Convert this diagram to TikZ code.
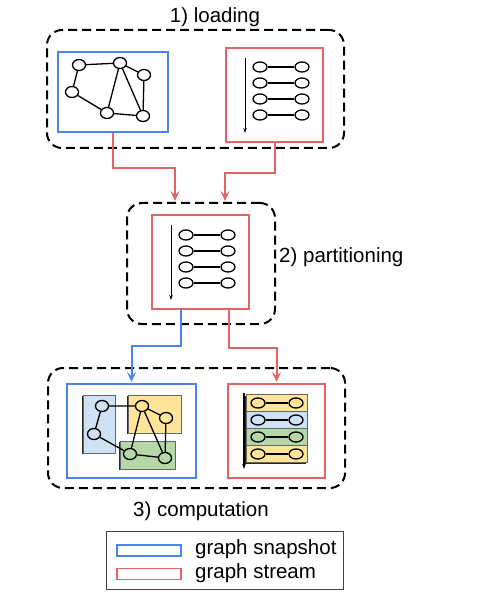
\documentclass[tikz,border=0pt]{standalone}
\usepackage{fontspec}
\setmainfont{Liberation Sans}
\usepackage{xcolor}
\usepackage{tikz}
\usetikzlibrary{arrows.meta}
\usetikzlibrary{calc}
\usetikzlibrary{shapes.geometric}
\usetikzlibrary{shadows}
\definecolor{snapblue}{HTML}{4A86E8}
\definecolor{streamred}{HTML}{E06666}
\definecolor{pblue}{HTML}{CFE2F3}
\definecolor{pyellow}{HTML}{FFE599}
\definecolor{pgreen}{HTML}{B6D7A8}
\tikzstyle{stage}=[draw,line width=2pt,dash pattern=on 9pt off 5pt,rounded corners=15pt,inner sep=0pt]
\tikzstyle{box}  =[line width=2pt,inner sep=0pt]
\tikzstyle{snap} =[box,draw=snapblue]
\tikzstyle{strm} =[box,draw=streamred]
\tikzstyle{vx}   =[draw,ellipse,line width=1.3pt,minimum width=13pt,minimum height=11pt,inner sep=0pt]
\tikzstyle{tv}   =[vx,minimum width=14pt,minimum height=10pt]
\tikzstyle{ed}   =[line width=1.3pt]
\tikzstyle{part} =[draw=black!60,line width=.6pt,inner sep=0pt,drop shadow={shadow xshift=-1.3pt,shadow yshift=-1.3pt,opacity=1,fill=black!85}]
\tikzstyle{conn} =[line width=2pt,-{Stealth[length=10pt,width=9pt,inset=4pt]}]
\tikzstyle{order}=[line width=1pt,-{Stealth[length=5pt,width=3.5pt]}]
\tikzstyle{lbl}  =[font=\fontsize{20.5}{24}\selectfont,inner sep=0pt]
% one edge of a stream: name, left x, right x, y
\newcommand\tuple[4]{%
	\node[tv] (#1a) at (#2,#4) {};
	\node[tv] (#1b) at (#3,#4) {};
	\draw[ed] (#1a) -- (#1b);}
\begin{document}
\begin{tikzpicture}[x=1pt,y=-1pt]
	\useasboundingbox (0,0) rectangle (496,609);
	% 1) loading
	\node[stage,minimum width=297pt,minimum height=118pt] (stage1) at (195.5,89) {};
	\node[lbl] (l1) at (215,17) {1) loading};
	\node[snap,minimum width=110pt,minimum height=80pt] (snap1) at (113,92) {};
	\node[vx] (n1) at (79,65) {};
	\node[vx] (n2) at (120,63) {};
	\node[vx] (n3) at (144,75) {};
	\node[vx] (n4) at (72,92) {};
	\node[vx] (n5) at (107,113) {};
	\node[vx] (n6) at (143,116) {};
	\draw[ed] (n1)--(n2) (n1)--(n4) (n2)--(n3) (n2)--(n5) (n2)--(n6) (n3)--(n6) (n4)--(n5) (n5)--(n6);
	\node[strm,minimum width=97pt,minimum height=94pt] (stream1) at (274.5,95) {};
	\coordinate (o1) at (245,58);
	\coordinate (o2) at (245,133);
	\draw[order] (o1) -- (o2);
	\tuple{s1}{260}{302}{67}
	\tuple{s2}{260}{302}{83}
	\tuple{s3}{260}{302}{99}
	\tuple{s4}{260}{302}{115}
	% 2) partitioning
	\node[stage,minimum width=148pt,minimum height=121pt] (stage2) at (201,263.5) {};
	\node[lbl,anchor=west] (l2) at (279,257) {2) partitioning};
	\node[strm,minimum width=97pt,minimum height=94pt] (stream2) at (200.5,262) {};
	\coordinate (o3) at (171,225);
	\coordinate (o4) at (171,300);
	\draw[order] (o3) -- (o4);
	\tuple{t1}{186}{228}{235}
	\tuple{t2}{186}{228}{251}
	\tuple{t3}{186}{228}{267}
	\tuple{t4}{186}{228}{283}
	\draw[conn,streamred] (snap1.south) -- ++(0,35) -| ($(stage2.north)+(-26,-1)$);
	\draw[conn,streamred] (stream1.south) -- ++(0,30) -| ($(stage2.north)+(24,-1)$);
	% 3) computation
	\node[stage,minimum width=297pt,minimum height=120pt] (stage3) at (196.5,428) {};
	\node[lbl] (l3) at (201,511) {3) computation};
	\node[snap,minimum width=129pt,minimum height=94pt] (snap3) at (131.5,431) {};
	\node[part,fill=pblue,minimum width=32pt,minimum height=58pt] (pa) at (99,424) {};
	\node[part,fill=pyellow,minimum width=53pt,minimum height=38pt] (pb) at (154.5,414) {};
	\node[part,fill=pgreen,minimum width=55pt,minimum height=28pt] (pc) at (147.5,455) {};
	\node[vx] (m1) at (102,406) {};
	\node[vx] (m2) at (142,406) {};
	\node[vx] (m3) at (166,418) {};
	\node[vx] (m4) at (94,434) {};
	\node[vx] (m5) at (130,454) {};
	\node[vx] (m6) at (165,458) {};
	\draw[ed] (m1)--(m2) (m1)--(m4) (m2)--(m3) (m2)--(m5) (m2)--(m6) (m3)--(m6) (m4)--(m5) (m5)--(m6);
	\node[strm,minimum width=97pt,minimum height=94pt] (stream3) at (276.5,431) {};
	\node[part,fill=pyellow,minimum width=61pt,minimum height=17pt] (q1) at (276.5,403) {};
	\node[part,fill=pblue,minimum width=61pt,minimum height=17pt] (q2) at (276.5,420) {};
	\node[part,fill=pgreen,minimum width=61pt,minimum height=17pt] (q3) at (276.5,437) {};
	\node[part,fill=pyellow,minimum width=61pt,minimum height=17pt] (q4) at (276.5,454) {};
	\coordinate (o5) at (244,393);
	\coordinate (o6) at (244,469);
	\draw[order,line width=1.5pt] (o5) -- (o6);
	\tuple{u1}{258}{296}{403}
	\tuple{u2}{258}{296}{420}
	\tuple{u3}{258}{296}{437}
	\tuple{u4}{258}{296}{454}
	\draw[conn,snapblue] ($(stream2.south)+(-20,0)$) -- ++(0,36) -| ($(snap3.north)+(0,-1)$);
	\draw[conn,streamred] ($(stream2.south)+(28.5,0)$) -- ++(0,38) -| ($(stream3.north)+(0,-1)$);
	% legend
	\node[draw=black!75,line width=1pt,minimum width=237pt,minimum height=58pt,inner sep=0pt] (key) at (224.5,560) {};
	\node[snap,line width=1.6pt,minimum width=64pt,minimum height=11pt] (ksnap) at (149,550.5) {};
	\node[strm,line width=1.6pt,minimum width=64pt,minimum height=11pt] (kstrm) at (149,574) {};
	\node[lbl,anchor=west] (tsnap) at (195,549) {graph snapshot};
	\node[lbl,anchor=west] (tstrm) at (195,573) {graph stream};
\end{tikzpicture}
\end{document}
